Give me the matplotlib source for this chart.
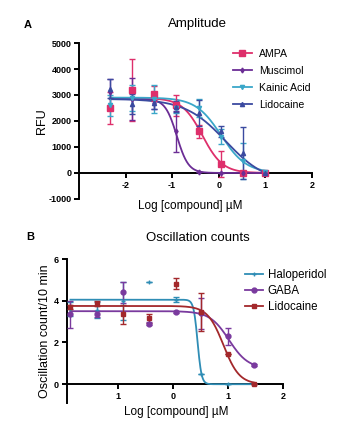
"""Dose-response curves: calcium amplitude and oscillation counts."""

import numpy as np
import matplotlib

matplotlib.use("Agg")
import matplotlib.pyplot as plt
from matplotlib.lines import Line2D

plt.rcParams["font.family"] = ["Liberation Sans", "DejaVu Sans"]
plt.rcParams["axes.unicode_minus"] = False

# ---- Panel A: amplitude (RFU) ----
log_conc_a = [-2.34, -1.86, -1.38, -0.91, -0.43, 0.05, 0.52, 1.0]

ampa_y = [2500, 3200, 3050, 2600, 1600, 350, 0, 0]
ampa_err = [600, 1200, 300, 400, 250, 500, 0, 0]
muscimol_y = [3100, 2850, 2700, 1600, 50, 0, 0, 0]
muscimol_err = [500, 800, 250, 800, 0, 0, 0, 0]
kainic_y = [2600, 2900, 2850, 2500, 2500, 1400, 450, 50]
kainic_err = [400, 500, 550, 200, 350, 300, 700, 0]
lido_a_y = [3250, 2650, 2700, 2550, 2300, 1600, 750, 0]
lido_a_err = [350, 400, 250, 200, 500, 200, 1000, 0]

# fitted curve parameters: top, bottom, logIC50, hill
ampa_fit = (2880, 0, -0.35, 2.0)
muscimol_fit = (2850, 0, -0.90, 3.5)
kainic_fit = (2900, 0, 0.05, 1.6)
lido_a_fit = (2850, -400, 0.15, 1.0)

# ---- Panel B: oscillation counts ----
log_conc_b = [-1.86, -1.38, -0.91, -0.43, 0.05, 0.52, 1.0, 1.47]

halo_y = [3.6, 3.55, 4.0, 4.88, 4.05, 0.48, 0.0, 0.03]
halo_err = [0.35, 0.4, 0.9, 0.0, 0.12, 0.0, 0.0, 0.0]
gaba_y = [3.35, 3.35, 4.4, 2.9, 3.45, 3.4, 2.3, 0.9]
gaba_err = [0.65, 0.15, 0.5, 0.08, 0.05, 0.75, 0.4, 0.05]
lido_b_y = [3.7, 3.85, 3.35, 3.15, 4.82, 3.45, 1.47, 0.0]
lido_b_err = [0.1, 0.12, 0.45, 0.2, 0.25, 0.9, 0.0, 0.0]

halo_fit = (4.05, 0.0, 0.45, 12.0)
gaba_fit = (3.5, 0.75, 1.02, 2.5)
lido_b_fit = (3.75, 0.0, 0.92, 3.0)

x_ticks_b = [-1, 0, 1, 2]
x_tick_labels_b = ["1", "0", "1", "2"]


def logistic(x, params):
    top, bottom, log_ic50, hill = params
    return bottom + (top - bottom) / (1 + 10 ** ((x - log_ic50) * hill))


def draw_series(ax, x, y, err, fit, color, marker, ms, label):
    xs = np.linspace(min(x), max(x), 300)
    ax.plot(xs, logistic(xs, fit), color=color, linewidth=1.3, zorder=3)
    ax.errorbar(x, y, yerr=err, fmt=marker, color=color, markersize=ms,
                elinewidth=1.0, capsize=2.2, capthick=1.0, zorder=4)
    return Line2D([], [], color=color, marker=marker, markersize=ms,
                  linewidth=1.3, label=label)


def style_axis(ax):
    ax.spines["top"].set_visible(False)
    ax.spines["right"].set_visible(False)
    ax.spines["bottom"].set_position(("data", 0))
    for side in ("left", "bottom"):
        ax.spines[side].set_linewidth(1.4)
    ax.tick_params(width=1.4, length=3.5, labelsize=6.5, pad=2)
    for lab in ax.get_xticklabels() + ax.get_yticklabels():
        lab.set_fontweight("bold")


fig = plt.figure(figsize=(3.45, 4.26), dpi=100)

# Panel A
ax_a = fig.add_axes([0.229, 0.533, 0.675, 0.366])
handles_a = [
    draw_series(ax_a, log_conc_a, ampa_y, ampa_err, ampa_fit, "#de2f6b", "s", 4, "AMPA"),
    draw_series(ax_a, log_conc_a, muscimol_y, muscimol_err, muscimol_fit, "#6b2d95", "d", 2.5, "Muscimol"),
    draw_series(ax_a, log_conc_a, kainic_y, kainic_err, kainic_fit, "#3aa7c9", "v", 3, "Kainic Acid"),
    draw_series(ax_a, log_conc_a, lido_a_y, lido_a_err, lido_a_fit, "#3b4aa0", "^", 3, "Lidocaine"),
]
ax_a.set_xlim(-3, 2)
ax_a.set_ylim(-1000, 5000)
ax_a.set_xticks([-2, -1, 0, 1, 2])
ax_a.set_yticks(range(-1000, 5001, 1000))
style_axis(ax_a)
ax_a.set_ylabel("RFU", fontsize=9, labelpad=0)
ax_a.legend(handles=handles_a, loc="upper left", bbox_to_anchor=(0.62, 1.025),
            frameon=False, fontsize=7.6, handlelength=1.8, labelspacing=0.68,
            handletextpad=0.7)
fig.text(0.55, 0.517, "Log [compound] µM", ha="center", va="center", fontsize=8.5)
fig.text(0.572, 0.944, "Amplitude", ha="center", va="center", fontsize=9.5)
fig.text(0.08, 0.941, "A", ha="center", va="center", fontsize=8, fontweight="bold")

# Panel B
ax_b = fig.add_axes([0.193, 0.054, 0.627, 0.338])
handles_b = [
    draw_series(ax_b, log_conc_b, halo_y, halo_err, halo_fit, "#2f8db5", "+", 3.5, "Haloperidol"),
    draw_series(ax_b, log_conc_b, gaba_y, gaba_err, gaba_fit, "#7a3a9e", "o", 3.5, "GABA"),
    draw_series(ax_b, log_conc_b, lido_b_y, lido_b_err, lido_b_fit, "#a3282b", "s", 3.5, "Lidocaine"),
]
ax_b.set_xlim(-1.93, 2)
ax_b.set_ylim(-0.9, 6)
ax_b.set_xticks(x_ticks_b)
ax_b.set_xticklabels(x_tick_labels_b)
ax_b.set_yticks([0, 2, 4, 6])
style_axis(ax_b)
ax_b.set_ylabel("Oscillation count/10 min", fontsize=9, labelpad=2)
ax_b.legend(handles=handles_b, loc="upper left", bbox_to_anchor=(0.775, 1.005),
            frameon=False, fontsize=8.3, handlelength=1.6, labelspacing=0.35,
            handletextpad=0.4)
fig.text(0.51, 0.033, "Log [compound] µM", ha="center", va="center", fontsize=8.5)
fig.text(0.575, 0.441, "Oscillation counts", ha="center", va="center", fontsize=9.5)
fig.text(0.087, 0.443, "B", ha="center", va="center", fontsize=8, fontweight="bold")

fig.savefig("out.png", dpi=100)
plt.close(fig)
